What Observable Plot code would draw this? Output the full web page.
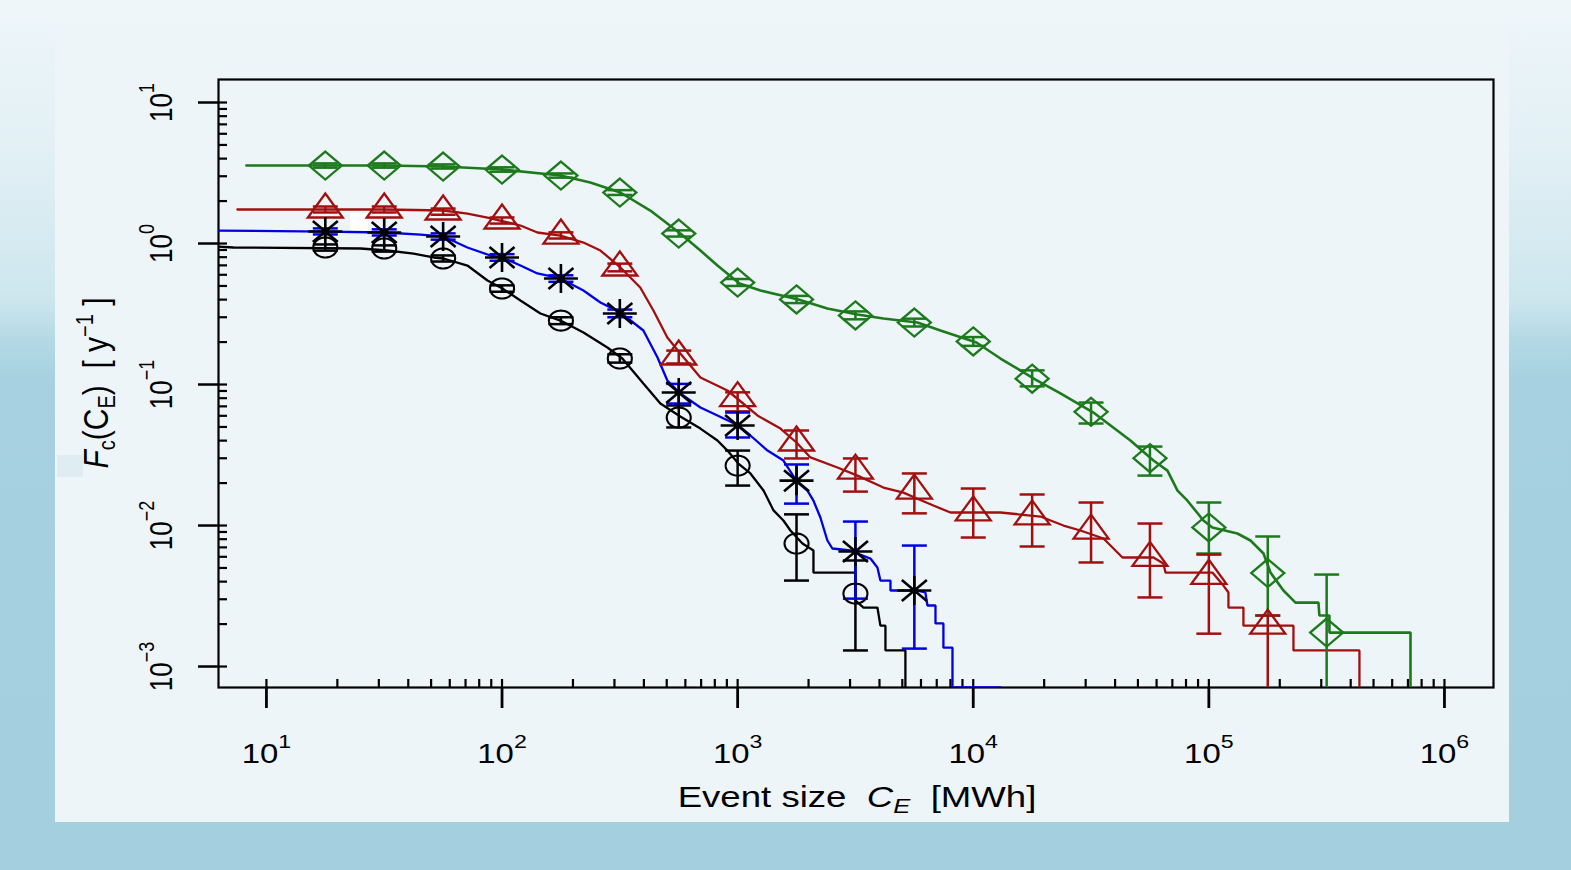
<!DOCTYPE html>
<html><head><meta charset="utf-8">
<script src="https://cdn.jsdelivr.net/npm/d3@7"></script>
<script src="https://cdn.jsdelivr.net/npm/@observablehq/plot@0.6"></script>
<style>
html,body{margin:0;padding:0;width:1571px;height:870px;overflow:hidden}
body{position:relative;background:linear-gradient(to bottom,#eef6f9 0px,#e2f0f5 150px,#cde6ee 300px,#b3d9e5 340px,#a7d1e0 380px,#a3cfdf 870px);font-family:"Liberation Sans",Arial,sans-serif}
#panel{position:absolute;left:55px;top:18px;width:1454px;height:804px;background:#edf5f9}
#chip{position:absolute;left:57px;top:455px;width:26px;height:22px;background:#dfecf1}
#patch{position:absolute;left:350px;top:213px;width:18px;height:17px;background:#ffffff}
#chart{position:absolute;left:0;top:0}
</style></head><body>
<div id="panel"></div><div id="chip"></div><div id="patch"></div><div id="chart"></div>
<script>
// ---------- data ----------
const markerX = [17.78, 31.62, 56.23, 100, 177.8, 316.2, 562.3, 1000, 1778, 3162, 5623, 10000, 17783, 31623, 56234, 100000, 177828, 316228];

const circleY  = [0.937, 0.922, 0.783, 0.480, 0.284, 0.153, 0.0583, 0.0266, 0.00745, 0.00329];
const circleLo = [0.890, 0.876, 0.745, 0.455, 0.268, 0.143, 0.0496, 0.0192, 0.00407, 0.0013];
const circleHi = [0.985, 0.970, 0.823, 0.505, 0.300, 0.164, 0.0710, 0.0340, 0.0120, 0.00565];

const starY  = [1.216, 1.197, 1.12, 0.796, 0.565, 0.319, 0.0878, 0.0512, 0.0208, 0.00654, 0.00346];
const starLo = [1.16, 1.14, 1.065, 0.755, 0.535, 0.300, 0.0733, 0.0421, 0.0143, 0.00303, 0.00134];
const starHi = [1.28, 1.26, 1.18, 0.84, 0.595, 0.340, 0.101, 0.0633, 0.0271, 0.01067, 0.00721];

const triY  = [1.742, 1.742, 1.686, 1.456, 1.139, 0.676, 0.158, 0.0800, 0.0388, 0.0245, 0.0177, 0.0124, 0.0116, 0.0092, 0.0059, 0.0044, 0.00195];
const triLo = [1.66, 1.66, 1.60, 1.385, 1.085, 0.635, 0.141, 0.0645, 0.0299, 0.0174, 0.0122, 0.00822, 0.0071, 0.00547, 0.00309, 0.00171, 0.0001];
const triHi = [1.83, 1.83, 1.77, 1.53, 1.20, 0.72, 0.174, 0.088, 0.0472, 0.0299, 0.0234, 0.0183, 0.0166, 0.01456, 0.01033, 0.00622, 0.0023];

const diaY  = [3.574, 3.574, 3.516, 3.348, 3.035, 2.300, 1.177, 0.529, 0.401, 0.309, 0.275, 0.202, 0.110, 0.064, 0.030, 0.0097, 0.0046, 0.00174];
const diaLo = [3.45, 3.45, 3.40, 3.23, 2.93, 2.21, 1.12, 0.50, 0.378, 0.29, 0.258, 0.188, 0.097, 0.0529, 0.0226, 0.00633, 0.0023, 0.0001];
const diaHi = [3.70, 3.70, 3.64, 3.47, 3.14, 2.39, 1.24, 0.56, 0.425, 0.33, 0.293, 0.217, 0.126, 0.0745, 0.0363, 0.01456, 0.00836, 0.00449];

const blackLine = [[6.26,0.952],[7.24,0.937],[25.1,0.922],[32.6,0.892],[42.1,0.849],[51.2,0.796],[56.4,0.783],[71.3,0.698],[86.7,0.547],[100.4,0.480],[119.7,0.394],[145.5,0.319],[177,0.284],[221.6,0.234],[280,0.183],[324,0.153],[398,0.1016],[470,0.0733],[571,0.0593],[695,0.0487],[821,0.0401],[905,0.0340],[1007,0.0275],[1133,0.0234],[1288,0.0177],[1420,0.0128],[1564,0.01085],[1675,0.00922],[1884,0.00745],[2098,0.00665],[2098,0.00464],[3162,0.00464],[3162,0.00294],[3419,0.00262],[3920,0.00262],[4036,0.00195],[4240,0.00195],[4240,0.0013],[5153,0.0013],[5153,0.0001]];

const blueLine = [[6.26,1.236],[17.8,1.216],[31.7,1.197],[45.1,1.158],[56.4,1.12],[71.3,0.937],[89.3,0.822],[100.4,0.796],[119.7,0.698],[141.3,0.613],[177,0.565],[221.6,0.464],[261.6,0.382],[318,0.324],[398,0.2415],[457,0.1554],[503,0.1068],[571,0.0864],[695,0.0687],[821,0.0603],[1007,0.0512],[1133,0.0435],[1339,0.0340],[1564,0.0289],[1794,0.0202],[1978,0.0177],[2098,0.0150],[2245,0.0114],[2404,0.00783],[2524,0.00687],[3011,0.00665],[3225,0.00633],[3661,0.00583],[3920,0.00504],[4036,0.00407],[4453,0.00407],[4453,0.00346],[5792,0.00346],[6263,0.00335],[6392,0.00271],[6914,0.00271],[6914,0.00202],[7471,0.00202],[7471,0.00136],[8163,0.00136],[8163,0.00071],[13050,0.00071]];

const redLine = [[7.53,1.742],[17.8,1.742],[31.7,1.742],[56.4,1.714],[71.3,1.632],[86.7,1.529],[119.7,1.342],[141.3,1.197],[177,1.139],[221.6,1.016],[261.6,0.892],[318,0.676],[386,0.488],[439,0.335],[503,0.2154],[571,0.166],[695,0.1121],[905,0.0907],[1007,0.0783],[1213,0.0603],[1520,0.0487],[1777,0.0388],[2037,0.0304],[2652,0.0258],[3225,0.0226],[4157,0.0186],[5056,0.0171],[5792,0.0155],[6776,0.01386],[7998,0.01237],[13047,0.01237],[19280,0.01158],[24150,0.0100],[28510,0.00922],[35690,0.00809],[38990,0.00698],[42980,0.00593],[58200,0.00593],[64130,0.00537],[65450,0.00464],[103500,0.00464],[115300,0.00375],[121100,0.00335],[121100,0.00262],[140200,0.00262],[140200,0.00195],[228600,0.00195],[228600,0.0013],[435600,0.0013],[435600,0.0001]];

const greenLine = [[8.22,3.574],[17.8,3.574],[31.7,3.574],[56.4,3.516],[100.4,3.348],[177,3.035],[237,2.708],[318,2.300],[426,1.714],[571,1.177],[695,0.892],[821,0.698],[1018,0.520],[1250,0.464],[1811,0.401],[2404,0.346],[3225,0.3137],[4157,0.294],[5792,0.2753],[7260,0.2415],[10320,0.1985],[13047,0.1529],[18370,0.1085],[23450,0.0864],[32360,0.0633],[46460,0.0401],[58200,0.0289],[66730,0.0245],[73620,0.0177],[81140,0.0150],[94850,0.01085],[103500,0.00968],[132200,0.00878],[150200,0.00783],[170600,0.00633],[182600,0.00464],[207300,0.00346],[233200,0.00284],[291900,0.00284],[294500,0.0023],[324900,0.0023],[324900,0.00174],[717600,0.00174],[717600,0.0001]];

const xMajor = [10, 100, 1000, 10000, 100000, 1000000];
const xTickLabels = ["10^1", "10^2", "10^3", "10^4", "10^5", "10^6"];
const yMajor = [0.001, 0.01, 0.1, 1, 10];
const yTickLabels = ["10^\u22123", "10^\u22122", "10^\u22121", "10^0", "10^1"];

// ---------- layout / styles ----------
const W = 1571, H = 870, mL = 218, mR = 78, mT = 79, mB = 183;
const plotW = W - mL - mR, plotH = H - mT - mB;
const colBlack = "#000000", colBlue = "#0000e6", colRed = "#a30f0f", colGreen = "#1c7a1c";
const SX = 1.22; // horizontal glyph stretch seen in the reference

const xMinor = [], yMinor = [];
for (let k = 1; k <= 6; k++) for (let m = 1; m <= 9; m++) { const v = m * 10 ** k; if (v <= 1e6) xMinor.push(v); }
for (let k = -3; k <= 1; k++) for (let m = 1; m <= 9; m++) { const v = m * 10 ** k; if (v <= 14) yMinor.push(v); }

const ellipseSym = {draw(c){const rx=12, ry=10; c.moveTo(rx,0); for(let i=1;i<=48;i++){const a=i/48*2*Math.PI; c.lineTo(rx*Math.cos(a), ry*Math.sin(a));} c.closePath();}};
const triSym = {draw(c){c.moveTo(0,-16); c.lineTo(17.5,8); c.lineTo(-17.5,8); c.closePath();}};
const diaSym = {draw(c){c.moveTo(0,-14); c.lineTo(16.5,0); c.lineTo(0,14); c.lineTo(-16.5,0); c.closePath();}};
const starSym = {draw(c){c.moveTo(-17,0); c.lineTo(17,0); c.moveTo(0,-14.5); c.lineTo(0,14.5); c.moveTo(-12.5,-10.5); c.lineTo(12.5,10.5); c.moveTo(-12.5,10.5); c.lineTo(12.5,-10.5);}};
const capSym = {draw(c){c.moveTo(-12.5,0); c.lineTo(12.5,0);}};

function rows(ys, lo, hi){ return ys.map((y,i)=>({x: markerX[i], y, lo: lo[i], hi: hi[i]})); }
function errMarks(data, color){
  return [
    Plot.ruleX(data, {x: "x", y1: "lo", y2: "hi", stroke: color, strokeWidth: 2.5, clip: true}),
    Plot.dot(data, {x: "x", y: "lo", symbol: capSym, stroke: color, fill: "none", strokeWidth: 2.5, clip: true}),
    Plot.dot(data, {x: "x", y: "hi", symbol: capSym, stroke: color, fill: "none", strokeWidth: 2.5, clip: true})
  ];
}
function lineMark(data, color, sw){
  return Plot.line(data, {x: d=>d[0], y: d=>d[1], stroke: color, strokeWidth: sw, clip: true, strokeLinejoin: "miter"});
}

const black = rows(circleY, circleLo, circleHi);
const blue = rows(starY, starLo, starHi);
const red = rows(triY, triLo, triHi);
const green = rows(diaY, diaLo, diaHi);

const xLab = new Map(xMajor.map((v,i)=>[v, xTickLabels[i]]));
const yLab = new Map(yMajor.map((v,i)=>[v, yTickLabels[i]]));

const chart = Plot.plot({
  width: W, height: H, marginLeft: mL, marginRight: mR, marginTop: mT, marginBottom: mB,
  style: {background: "transparent", fontFamily: "'Liberation Sans', Arial, sans-serif", color: "black", overflow: "visible"},
  x: {type: "log", domain: [6.26, 1.615e6]},
  y: {type: "log", domain: [7.1e-4, 14.56]},
  marks: [
    Plot.tickY(yMinor, {y: d=>d, insetRight: plotW - 9, stroke: "black", strokeWidth: 2.2}),
    Plot.tickX(xMinor, {x: d=>d, insetTop: plotH - 8, stroke: "black", strokeWidth: 2.2}),
    Plot.axisY({ticks: yMajor, tickSize: 20, tickPadding: 27, tickRotate: -90, tickFormat: d=>yLab.get(d), fontSize: 26, strokeWidth: 2.5, label: null}),
    Plot.axisX({ticks: xMajor, tickSize: 21, tickPadding: 35, tickFormat: d=>xLab.get(d), fontSize: 27, strokeWidth: 2.8, label: null}),
    Plot.frame({stroke: "black", strokeWidth: 2.2}),
    lineMark(greenLine, colGreen, 2.6),
    lineMark(redLine, colRed, 2.3),
    lineMark(blackLine, colBlack, 2.3),
    lineMark(blueLine, colBlue, 2.3),
    ...errMarks(green, colGreen),
    ...errMarks(red, colRed),
    ...errMarks(black, colBlack),
    ...errMarks(blue, colBlue),
    Plot.dot(green, {x: "x", y: "y", symbol: diaSym, stroke: colGreen, fill: "none", strokeWidth: 2.3}),
    Plot.dot(red, {x: "x", y: "y", symbol: triSym, stroke: colRed, fill: "none", strokeWidth: 2.3}),
    Plot.dot(black, {x: "x", y: "y", symbol: ellipseSym, stroke: colBlack, fill: "none", strokeWidth: 2.1}),
    Plot.dot(blue, {x: "x", y: "y", symbol: starSym, stroke: colBlack, fill: "none", strokeWidth: 2.6})
  ]
});
document.getElementById("chart").appendChild(chart);

// ---------- text post-processing (superscripts, stretch, titles) ----------
const NS = "http://www.w3.org/2000/svg";
function supify(el, supSize, dy){
  const m = el.textContent.match(/^10\^(.*)$/); if (!m) return;
  el.textContent = "";
  const a = document.createElementNS(NS, "tspan"); a.textContent = "10"; el.appendChild(a);
  const b = document.createElementNS(NS, "tspan"); b.textContent = m[1];
  b.setAttribute("dy", dy); b.setAttribute("font-size", supSize); el.appendChild(b);
}
function stretch(el, s){
  const t = el.getAttribute("transform");
  if (t && t.includes("translate")) {
    if (t.includes("rotate")) el.setAttribute("transform", t.replace("rotate", `scale(${s},1) rotate`));
    else el.setAttribute("transform", t + ` scale(${s},1)`);
  } else {
    const x = +el.getAttribute("x") || 0, y = +el.getAttribute("y") || 0;
    el.setAttribute("x", 0); el.setAttribute("y", 0);
    el.setAttribute("transform", `translate(${x},${y}) scale(${s},1)` + (t ? " " + t : ""));
  }
}
d3.select(chart).selectAll('g[aria-label="x-axis tick label"] text').each(function(){ supify(this, 19, -15); stretch(this, SX); });
d3.select(chart).selectAll('g[aria-label="y-axis tick label"] text').each(function(){ supify(this, 18, -14); stretch(this, SX); });

const svg = d3.select(chart);
// x title
const xt = svg.append("text").attr("transform", `translate(857,807) scale(${SX},1)`)
  .attr("text-anchor", "middle").attr("font-size", 30).attr("fill", "black")
  .style("white-space", "pre").attr("font-family", "'Liberation Sans', Arial, sans-serif");
xt.append("tspan").text("Event size  ");
xt.append("tspan").attr("font-style", "italic").text("C");
xt.append("tspan").attr("font-style", "italic").attr("font-size", 21).attr("dy", 6).text("E");
xt.append("tspan").attr("dy", -6).text("  [MWh]");
// y title
const yt = svg.append("text").attr("transform", `translate(108,383) scale(1.15,1) rotate(-90)`)
  .attr("text-anchor", "middle").attr("font-size", 30).attr("fill", "black")
  .style("white-space", "pre").attr("font-family", "'Liberation Sans', Arial, sans-serif");
yt.append("tspan").attr("font-style", "italic").text("F");
yt.append("tspan").attr("font-size", 20).attr("dy", 6).text("c");
yt.append("tspan").attr("dy", -6).text("(C");
yt.append("tspan").attr("font-size", 20).attr("dy", 6).text("E");
yt.append("tspan").attr("dy", -6).text(")  [ y");
yt.append("tspan").attr("font-size", 20).attr("dy", -13).text("\u22121");
yt.append("tspan").attr("dy", 13).text(" ]");
</script></body></html>
